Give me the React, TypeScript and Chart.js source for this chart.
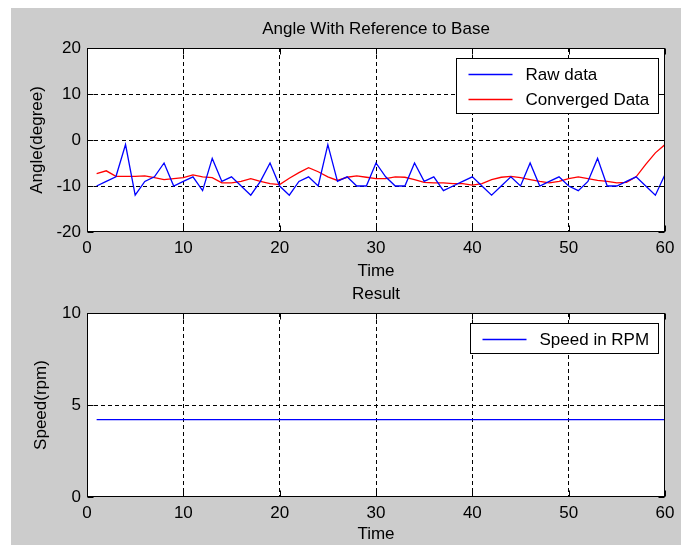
import React, { useEffect, useRef } from "react";
import { Chart, registerables } from "chart.js";

Chart.register(...registerables);

// ---------- data ----------
const TIME = [
  1, 2, 3, 4, 5, 6, 7, 8, 9, 10, 11, 12, 13, 14, 15, 16, 17, 18, 19, 20,
  21, 22, 23, 24, 25, 26, 27, 28, 29, 30, 31, 32, 33, 34, 35, 36, 37, 38, 39, 40,
  41, 42, 43, 44, 45, 46, 47, 48, 49, 50, 51, 52, 53, 54, 55, 56, 57, 58, 59, 60,
];
const RAW_DATA = [
  -10, -9, -8, -1, -12, -9, -8, -5, -10, -9, -8, -11, -4, -9, -8, -10, -12, -9, -5, -10,
  -12, -9, -8, -10, -1, -9, -8, -10, -10, -5, -8, -10, -10, -5, -9, -8, -11, -10, -9, -8,
  -10, -12, -10, -8, -10, -5, -10, -9, -8, -10, -11, -9, -4, -10, -10, -9, -8, -10, -12, -7.5,
];
const CONVERGED_DATA = [
  -7.3, -6.7, -7.9, -7.9, -7.9, -7.8, -8.2, -8.6, -8.4, -8.2, -7.6, -8.0, -8.2, -9.3, -9.3, -9.0, -8.4, -9.0, -9.5, -9.7,
  -8.3, -7.1, -6.0, -6.9, -8.0, -8.8, -8.1, -7.8, -8.1, -8.4, -8.4, -8.0, -8.1, -8.6, -9.2, -9.3, -9.3, -9.5, -9.5, -9.8,
  -9.5, -8.6, -8.1, -7.9, -8.2, -8.6, -9.0, -9.3, -9.0, -8.4, -8.0, -8.4, -8.8, -9.0, -9.3, -9.2, -8.0, -5.3, -2.8, -1.0,
];
const SPEED_RPM = [
  4.2, 4.2, 4.2, 4.2, 4.2, 4.2, 4.2, 4.2, 4.2, 4.2, 4.2, 4.2, 4.2, 4.2, 4.2, 4.2, 4.2, 4.2, 4.2, 4.2,
  4.2, 4.2, 4.2, 4.2, 4.2, 4.2, 4.2, 4.2, 4.2, 4.2, 4.2, 4.2, 4.2, 4.2, 4.2, 4.2, 4.2, 4.2, 4.2, 4.2,
  4.2, 4.2, 4.2, 4.2, 4.2, 4.2, 4.2, 4.2, 4.2, 4.2, 4.2, 4.2, 4.2, 4.2, 4.2, 4.2, 4.2, 4.2, 4.2, 4.2,
];
const TIME_TICKS = [0, 10, 20, 30, 40, 50, 60];
const ANGLE_TICKS = [-20, -10, 0, 10, 20];
const SPEED_TICKS = [0, 5, 10];

// ---------- style ----------
const FONT = "'Liberation Sans', Arial, Helvetica, sans-serif";
const FS = 17;
Chart.defaults.color = "#000";
Chart.defaults.font.family = FONT;
Chart.defaults.font.size = FS;

const TICK_LEN = 6;
const LINE_W = 1.3;

const matlabPlugin = {
  id: "matlabFrame",
  beforeDraw(chart: any) {
    const { ctx, chartArea: a } = chart;
    ctx.save();
    ctx.fillStyle = "#ffffff";
    ctx.fillRect(a.left, a.top, a.right - a.left, a.bottom - a.top);
    ctx.restore();
  },
  afterDatasetsDraw(chart: any) {
    const { ctx, chartArea: a, scales } = chart;
    const xs = scales.x;
    const ys = scales.y;
    ctx.save();
    ctx.strokeStyle = "#000";
    ctx.lineWidth = 1;
    ctx.setLineDash([]);
    const L = Math.round(a.left) + 0.5;
    const R = Math.round(a.right) - 0.5;
    const T = Math.round(a.top) + 0.5;
    const B = Math.round(a.bottom) - 0.5;
    ctx.beginPath();
    xs.ticks.forEach((t: any) => {
      const px = Math.round(xs.getPixelForValue(t.value)) + 0.5;
      ctx.moveTo(px, B);
      ctx.lineTo(px, B - TICK_LEN);
      ctx.moveTo(px, T);
      ctx.lineTo(px, T + TICK_LEN);
    });
    ys.ticks.forEach((t: any) => {
      const py = Math.round(ys.getPixelForValue(t.value)) + 0.5;
      ctx.moveTo(L, py);
      ctx.lineTo(L + TICK_LEN, py);
      ctx.moveTo(R, py);
      ctx.lineTo(R - TICK_LEN, py);
    });
    ctx.stroke();
    ctx.strokeRect(L, T, R - L, B - T);

    // legend box (top-right, inside axes)
    const ds = chart.data.datasets;
    ctx.font = `${FS}px ${FONT}`;
    let maxW = 0;
    ds.forEach((d: any) => {
      maxW = Math.max(maxW, ctx.measureText(d.label).width);
    });
    const padL = 12, lineLen = 44, gap = 13, padR = 9;
    const boxW = padL + lineLen + gap + maxW + padR;
    const rowH = 25;
    const boxH = 15 + rowH * (ds.length - 1) + 15;
    const bx = Math.round(a.right - 7 - boxW) + 0.5;
    const by = Math.round(a.top + 10) + 0.5;
    ctx.fillStyle = "#ffffff";
    ctx.fillRect(bx, by, Math.round(boxW), boxH);
    ctx.strokeStyle = "#000";
    ctx.strokeRect(bx, by, Math.round(boxW), boxH);
    ds.forEach((d: any, i: number) => {
      const y = Math.round(by + 15 + rowH * i);
      ctx.strokeStyle = d.borderColor;
      ctx.lineWidth = LINE_W;
      ctx.beginPath();
      ctx.moveTo(bx + padL, y + 0.5);
      ctx.lineTo(bx + padL + lineLen, y + 0.5);
      ctx.stroke();
      ctx.fillStyle = "#000";
      ctx.textAlign = "left";
      ctx.textBaseline = "middle";
      ctx.fillText(d.label, bx + padL + lineLen + gap, y + 1);
    });
    ctx.restore();
  },
};

function gridColor(min: number, max: number) {
  return (c: any) => {
    const v = c.tick ? c.tick.value : null;
    return v === min || v === max ? "rgba(0,0,0,0)" : "#000";
  };
}

function makeOptions(cfg: {
  title: string;
  titlePadTop: number;
  titlePadBottom: number;
  yTitle: string;
  yTitlePad: number;
  yMin: number;
  yMax: number;
  yTicks: number[];
  xHeight: number;
}) {
  return {
    responsive: false,
    animation: false as const,
    devicePixelRatio: 1,
    layout: { padding: { top: 0, left: 0, right: 23, bottom: 0 } },
    plugins: {
      legend: { display: false },
      tooltip: { enabled: false },
      title: {
        display: true,
        fullSize: false,
        text: cfg.title,
        color: "#000",
        font: { family: FONT, size: FS, weight: "normal" as const },
        padding: { top: cfg.titlePadTop, bottom: cfg.titlePadBottom },
      },
    },
    scales: {
      x: {
        type: "linear" as const,
        min: 0,
        max: 60,
        afterBuildTicks: (s: any) => {
          s.ticks = TIME_TICKS.map((v) => ({ value: v }));
        },
        afterFit: (s: any) => {
          s.height = cfg.xHeight;
        },
        ticks: { autoSkip: false, maxRotation: 0, padding: 6, color: "#000", font: { family: FONT, size: FS } },
        grid: { drawTicks: false, lineWidth: 1, color: gridColor(0, 60) },
        border: { display: false, dash: [4, 3] },
        title: {
          display: true,
          text: "Time",
          color: "#000",
          font: { family: FONT, size: FS, weight: "normal" as const },
          padding: { top: 0, bottom: 0 },
        },
      },
      y: {
        type: "linear" as const,
        min: cfg.yMin,
        max: cfg.yMax,
        afterBuildTicks: (s: any) => {
          s.ticks = cfg.yTicks.map((v) => ({ value: v }));
        },
        afterFit: (s: any) => {
          s.width = 87;
        },
        ticks: { autoSkip: false, padding: 6, color: "#000", font: { family: FONT, size: FS } },
        grid: { drawTicks: false, lineWidth: 1, color: gridColor(cfg.yMin, cfg.yMax) },
        border: { display: false, dash: [4, 3] },
        title: {
          display: true,
          text: cfg.yTitle,
          color: "#000",
          font: { family: FONT, size: FS, weight: "normal" as const },
          padding: { top: cfg.yTitlePad, bottom: 0 },
        },
      },
    },
  };
}

const TOP_H = 282;
const BOT_H = 545 - TOP_H;

export default function App() {
  const topRef = useRef<HTMLCanvasElement>(null);
  const botRef = useRef<HTMLCanvasElement>(null);

  useEffect(() => {
    const top = new Chart(topRef.current as HTMLCanvasElement, {
      type: "line",
      data: {
        datasets: [
          {
            label: "Raw data",
            data: TIME.map((t, i) => ({ x: t, y: RAW_DATA[i] })),
            borderColor: "#0000ff",
            backgroundColor: "#0000ff",
            borderWidth: LINE_W,
            pointRadius: 0,
            tension: 0,
          },
          {
            label: "Converged Data",
            data: TIME.map((t, i) => ({ x: t, y: CONVERGED_DATA[i] })),
            borderColor: "#ff0000",
            backgroundColor: "#ff0000",
            borderWidth: LINE_W,
            pointRadius: 0,
            tension: 0,
          },
        ],
      },
      options: makeOptions({
        title: "Angle With Reference to Base",
        titlePadTop: 18.8,
        titlePadBottom: 8.8,
        yTitle: "Angle(degree)",
        yTitlePad: 26.8,
        yMin: -20,
        yMax: 20,
        yTicks: ANGLE_TICKS,
        xHeight: TOP_H - 232,
      }) as any,
      plugins: [matlabPlugin],
    });

    const bot = new Chart(botRef.current as HTMLCanvasElement, {
      type: "line",
      data: {
        datasets: [
          {
            label: "Speed in RPM",
            data: TIME.map((t, i) => ({ x: t, y: SPEED_RPM[i] })),
            borderColor: "#0000ff",
            backgroundColor: "#0000ff",
            borderWidth: LINE_W,
            pointRadius: 0,
            tension: 0,
          },
        ],
      },
      options: makeOptions({
        title: "Result",
        titlePadTop: 1.8,
        titlePadBottom: 8.8,
        yTitle: "Speed(rpm)",
        yTitlePad: 30.8,
        yMin: 0,
        yMax: 10,
        yTicks: SPEED_TICKS,
        xHeight: BOT_H - (497 - TOP_H),
      }) as any,
      plugins: [matlabPlugin],
    });

    return () => {
      top.destroy();
      bot.destroy();
    };
  }, []);

  return (
    <div
      style={{
        position: "absolute",
        left: 0,
        top: 0,
        width: 688,
        height: 545,
        background: "#ffffff",
        overflow: "hidden",
      }}
    >
      <div
        style={{
          position: "absolute",
          left: 11,
          top: 8,
          width: 670,
          height: 537,
          background: "#cccccc",
        }}
      />
      <canvas
        ref={topRef}
        width={688}
        height={TOP_H}
        style={{ position: "absolute", left: 0, top: 0, width: 688, height: TOP_H, display: "block" }}
      />
      <canvas
        ref={botRef}
        width={688}
        height={BOT_H}
        style={{ position: "absolute", left: 0, top: TOP_H, width: 688, height: BOT_H, display: "block" }}
      />
    </div>
  );
}
